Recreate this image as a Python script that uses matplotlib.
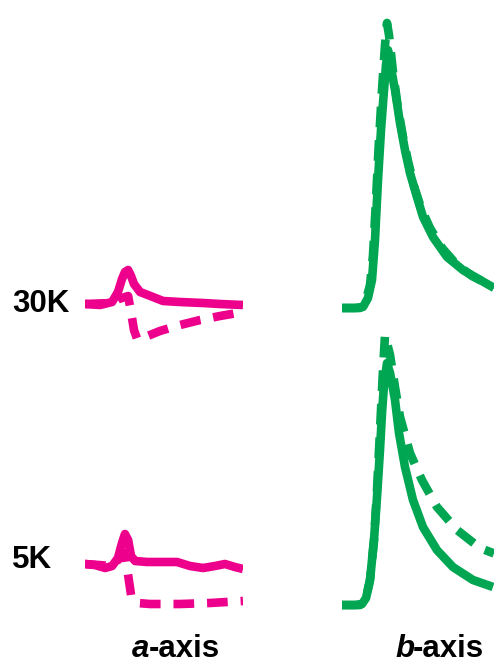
import matplotlib
matplotlib.use("Agg")
import matplotlib.pyplot as plt

# ---- data: transient reflectivity traces (arbitrary units) ----
# a-axis (magenta), time in ps
a_30K_solid_t = [-1.80, -1.13, -0.60, -0.34, -0.16, -0.03, 0.11, 0.24, 0.37, 0.64, 1.21, 1.66, 2.41, 3.43, 4.18, 5.20]
a_30K_solid_v = [0.0, -0.1, 0.2, 1.2, 2.5, 3.2, 3.4, 2.8, 2.0, 1.2, 0.7, 0.3, 0.2, 0.1, 0.0, -0.1]
a_30K_dash_t = [-1.80, -0.60, -0.30, 0.11, 0.24, 0.37, 0.51, 0.86, 1.52, 2.41, 3.30, 4.18, 5.20]
a_30K_dash_v = [0.0, 0.1, 0.5, 0.8, -0.8, -2.6, -3.5, -3.3, -2.7, -2.1, -1.6, -1.2, -0.8]

a_5K_solid_t = [-1.80, -1.36, -0.91, -0.60, -0.34, -0.16, -0.03, 0.11, 0.24, 0.42, 0.95, 1.52, 2.28, 2.85, 3.43, 3.96, 4.40, 4.84, 5.20]
a_5K_solid_v = [0.1, 0.0, -0.3, -0.1, 0.7, 2.2, 3.1, 2.5, 0.9, 0.4, 0.3, 0.3, 0.3, -0.1, -0.3, -0.1, 0.1, -0.2, -0.4]
a_5K_dash_t = [-1.80, -0.60, -0.30, -0.03, 0.11, 0.24, 0.51, 1.08, 2.41, 3.74, 5.20]
a_5K_dash_v = [0.1, -0.1, 0.6, 1.2, -1.0, -3.0, -3.8, -3.9, -3.9, -3.8, -3.6]

# b-axis (green), time in ps, normalised amplitude
b_30K_solid_t = [-2.3, -1.65, -1.25, -1.0, -0.8, -0.65, -0.5, -0.35, -0.2, -0.1, 0.0, 0.15, 0.35, 0.6, 0.85, 1.1, 1.45, 1.75, 2.25, 2.95, 3.75, 4.6, 5.3]
b_30K_solid_v = [0.0, 0.0, 0.004, 0.039, 0.109, 0.264, 0.496, 0.690, 0.845, 0.942, 1.0, 0.930, 0.845, 0.717, 0.612, 0.523, 0.430, 0.353, 0.275, 0.198, 0.147, 0.109, 0.078]
b_30K_dash_t = [-2.3, -1.4, -1.1, -0.9, -0.75, -0.6, -0.45, -0.3, -0.15, -0.05, 0.05, 0.25, 0.5, 0.75, 1.0, 1.3, 1.65, 2.1, 2.7, 3.4, 4.2, 5.3]
b_30K_dash_v = [0.0, 0.0, 0.031, 0.089, 0.205, 0.419, 0.651, 0.845, 1.019, 1.105, 1.058, 0.915, 0.775, 0.663, 0.570, 0.473, 0.388, 0.310, 0.233, 0.171, 0.124, 0.081]

b_5K_solid_t = [-2.3, -1.65, -1.3, -1.1, -0.9, -0.7, -0.55, -0.4, -0.3, -0.2, -0.05, 0.1, 0.2, 0.35, 0.55, 0.85, 1.25, 1.75, 2.45, 3.25, 4.25, 5.25]
b_5K_solid_v = [0.0, 0.0, 0.004, 0.027, 0.097, 0.252, 0.419, 0.601, 0.744, 0.853, 0.938, 0.900, 0.860, 0.795, 0.667, 0.535, 0.407, 0.302, 0.213, 0.147, 0.097, 0.070]
b_5K_dash_t = [-2.3, -1.4, -1.1, -0.9, -0.7, -0.55, -0.4, -0.25, -0.15, 0.1, 0.35, 0.6, 1.1, 1.7, 2.45, 3.45, 4.6, 5.3]
b_5K_dash_v = [0.0, 0.0, 0.027, 0.097, 0.252, 0.446, 0.678, 0.911, 1.047, 0.970, 0.845, 0.729, 0.589, 0.484, 0.380, 0.291, 0.221, 0.200]

row_labels = ["30K", "5K"]
col_labels = [("a", "-axis"), ("b", "-axis")]

MAGENTA = "#EC008C"
GREEN = "#00A651"

W, H = 494, 664
fig = plt.figure(figsize=(W / 100, H / 100), dpi=100)
fig.patch.set_facecolor("white")


def panel(left, top, right, bottom, xlim, ylim):
    ax = fig.add_axes([left / W, 1 - bottom / H, (right - left) / W, (bottom - top) / H])
    ax.set_xlim(*xlim)
    ax.set_ylim(*ylim)
    ax.axis("off")
    return ax


def traces(ax, ts, vs, td, vd, color):
    ax.plot(ts, vs, color=color, lw=6.2, solid_capstyle="butt", solid_joinstyle="round")
    ax.plot(td, vd, color=color, lw=6.2, linestyle=(0, (2.4, 1.5)),
            dash_capstyle="butt", dash_joinstyle="round")


# a-axis panels
ax = panel(85, 240, 243, 350, (-1.8, 5.2), (-4.6, 6.4))
traces(ax, a_30K_solid_t, a_30K_solid_v, a_30K_dash_t, a_30K_dash_v, MAGENTA)
ax = panel(85, 500, 243, 615, (-1.8, 5.2), (-5.0, 6.5))
traces(ax, a_5K_solid_t, a_5K_solid_v, a_5K_dash_t, a_5K_dash_v, MAGENTA)

# b-axis panels
ax = panel(342, 0, 494, 320, (-2.3, 5.3), (-0.0465, 1.194))
traces(ax, b_30K_solid_t, b_30K_solid_v, b_30K_dash_t, b_30K_dash_v, GREEN)
ax = panel(342, 320, 494, 620, (-2.3, 5.3), (-0.058, 1.105))
traces(ax, b_5K_solid_t, b_5K_solid_v, b_5K_dash_t, b_5K_dash_v, GREEN)

font = "Liberation Sans"
fs = 22.5

# temperature labels
for label, ybase in zip(row_labels, [312, 568]):
    fig.text(12 / W, 1 - ybase / H, label, fontsize=fs, fontweight="bold",
             family=font, ha="left", va="baseline")

# column labels: italic letter followed by "-axis"
renderer = fig.canvas.get_renderer()
for (letter, rest), x0 in zip(col_labels, [132, 395]):
    t1 = fig.text(x0 / W, 1 - 657 / H, letter, fontsize=fs, fontweight="bold",
                  fontstyle="italic", family=font, ha="left", va="baseline")
    bb = t1.get_window_extent(renderer=renderer)
    fig.text((bb.x1 - 1) / W, 1 - 657 / H, rest, fontsize=fs, fontweight="bold",
             family=font, ha="left", va="baseline")

fig.savefig("out.png", dpi=100, facecolor="white")
